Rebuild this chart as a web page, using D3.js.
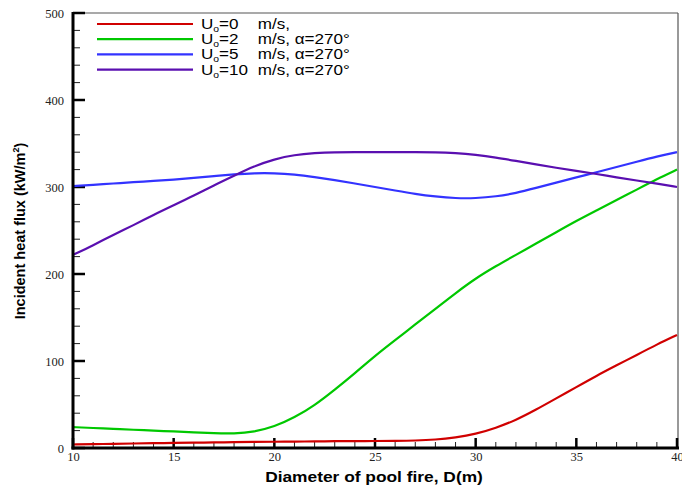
<!DOCTYPE html>
<html><head><meta charset="utf-8">
<script src="https://cdn.jsdelivr.net/npm/d3@7"></script>
<style>body{margin:0;background:#fff}svg{display:block}</style>
</head><body>
<svg id="c" width="682" height="486"></svg>
<script>
const diameters = [10,11,12,13,14,15,16,17,18,19,20,21,22,23,24,25,26,27,28,29,30,31,32,33,34,35,36,37,38,39,40];
const u0  = [4,4.4,4.8,5.2,5.5,5.8,6.1,6.4,6.7,7,7.2,7.4,7.6,7.8,8,8,8.2,8.5,9.5,12,16,23,32,44,57,70,83,95,107,119,130];
const u2  = [24,23,22,21,20,19,18,17,16.5,18.5,24.5,35,49,67,86,106,124,142,160,178,195,209,222,235,248,261,273,285,297,309,320];
const u5  = [301,302.5,304,305.5,307,308.5,310.5,312.5,314.5,316,316,314.5,311.5,308,304,300,296,292,289,287,287,289,293,299,305,311,317,323,329,335,340];
const u10 = [222,233,245,256,268,279,290,302,313,324,332,337,339,340,340,340,340,340,340,339,337,334,330,326,322,318.5,315,311,307.5,304,300];
const seriesNames = ["0","2","5","10"];
const seriesSuffix = ["m/s,","m/s, \u03B1=270\u00B0","m/s, \u03B1=270\u00B0","m/s, \u03B1=270\u00B0"];
const seriesColors = ["#d00000","#00c800","#3333ff","#5a0fb0"];
const xTicks = [10,15,20,25,30,35,40];
const yTicks = [0,100,200,300,400,500];

const svg = d3.select("#c");
const L=73, R=677, T=13, B=448;
const x = d3.scaleLinear().domain([10,40]).range([L,R]);
const y = d3.scaleLinear().domain([0,500]).range([B,T]);
const serif = "'Liberation Serif','Times New Roman',serif";
const sans = "'Liberation Sans',Arial,Helvetica,sans-serif";

// frame top/right
svg.append("line").attr("x1",L).attr("x2",R+1).attr("y1",T).attr("y2",T).attr("stroke","#555").attr("stroke-width",1.2);
svg.append("line").attr("x1",R+1).attr("x2",R+1).attr("y1",T).attr("y2",B).attr("stroke","#555").attr("stroke-width",1.2);

// minor ticks
const xMinor = d3.range(10,41,1).filter(v=>v%5!==0);
const yMinor = d3.range(0,501,20).filter(v=>v%100!==0);
svg.append("g").selectAll("line").data(yMinor).join("line")
  .attr("x1",L).attr("x2",L+7).attr("y1",d=>y(d)).attr("y2",d=>y(d))
  .attr("stroke","#222").attr("stroke-width",1);
svg.append("g").selectAll("line").data(xMinor).join("line")
  .attr("x1",d=>x(d)).attr("x2",d=>x(d)).attr("y1",B).attr("y2",B-6)
  .attr("stroke","#222").attr("stroke-width",1);

// major ticks (inward)
svg.append("g").selectAll("line").data(yTicks).join("line")
  .attr("x1",L).attr("x2",L+12).attr("y1",d=>y(d)).attr("y2",d=>y(d))
  .attr("stroke","#000").attr("stroke-width",2.5);
svg.append("g").selectAll("line").data(xTicks).join("line")
  .attr("x1",d=>x(d)).attr("x2",d=>x(d)).attr("y1",B).attr("y2",B-10)
  .attr("stroke","#000").attr("stroke-width",2.5);

// tick labels
svg.append("g").attr("transform",`translate(${L},0)`)
  .call(d3.axisLeft(y).tickValues(yTicks).tickSize(0).tickPadding(9))
  .call(g=>g.select(".domain").remove())
  .call(g=>g.selectAll("text").attr("font-family",serif).attr("font-size",12.5).attr("fill","#222"));
svg.append("g").attr("transform",`translate(0,${B})`)
  .call(d3.axisBottom(x).tickValues(xTicks).tickSize(0).tickPadding(4))
  .call(g=>g.select(".domain").remove())
  .call(g=>g.selectAll("text").attr("font-family",serif).attr("font-size",12.5).attr("fill","#222"));

// lines
const all = [u0,u2,u5,u10];
const line = d3.line().x((d,i)=>x(diameters[i])).y(d=>y(d)).curve(d3.curveBasis);
all.forEach((s,k)=>{
  svg.append("path").datum(s).attr("d",line).attr("fill","none")
    .attr("stroke",seriesColors[k]).attr("stroke-width",2.2);
});

// axes lines (thick)
svg.append("line").attr("x1",L).attr("x2",L).attr("y1",T-1).attr("y2",B+1.5).attr("stroke","#000").attr("stroke-width",3);
svg.append("line").attr("x1",L-1.5).attr("x2",R+2).attr("y1",B).attr("y2",B).attr("stroke","#000").attr("stroke-width",3);

// legend
const lg = svg.append("g");
seriesNames.forEach((n,k)=>{
  const yy = 24 + k*15.2;
  lg.append("line").attr("x1",97).attr("x2",193).attr("y1",yy).attr("y2",yy)
    .attr("stroke",seriesColors[k]).attr("stroke-width",2.2);
  const g = lg.append("g").attr("transform",`translate(201,${yy+5}) scale(1.22,1)`);
  const t = g.append("text").attr("x",0).attr("y",0)
    .attr("font-family",sans).attr("font-size",14).attr("fill","#000");
  t.append("tspan").text("U");
  t.append("tspan").attr("font-size",8.5).attr("dy",3).text("o");
  t.append("tspan").attr("dy",-3).text("="+n);
  g.append("text").attr("x",46.5).attr("y",0)
    .attr("font-family",sans).attr("font-size",14).attr("fill","#000").text(seriesSuffix[k]);
});

// axis titles
svg.append("g").attr("transform","translate(374,482) scale(1.12,1)")
  .append("text").attr("text-anchor","middle")
  .attr("font-family",sans).attr("font-weight","bold").attr("font-size",15.5)
  .text("Diameter of pool fire, D(m)");
const yt = svg.append("text").attr("transform","translate(25,231) rotate(-90)").attr("text-anchor","middle")
  .attr("font-family",sans).attr("font-weight","bold").attr("font-size",14.5);
yt.append("tspan").text("Incident heat flux (kW/m");
yt.append("tspan").attr("font-size",9).attr("dy",-6).text("2");
yt.append("tspan").attr("dy",6).text(")");
</script>
</body></html>
